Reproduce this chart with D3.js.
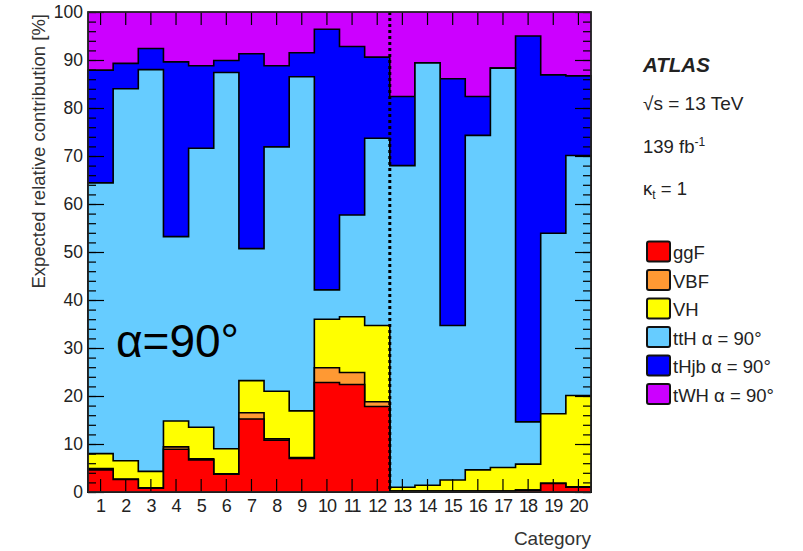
<!DOCTYPE html>
<html>
<head>
<meta charset="utf-8">
<script src="https://cdn.jsdelivr.net/npm/d3@7"></script>
<style>
  html, body { margin: 0; padding: 0; background: #fff; }
  svg { display: block; font-family: "Liberation Sans", Arial, Helvetica, sans-serif; }
</style>
</head>
<body>
<svg id="chart" width="803" height="551"></svg>
<script>
// Expected relative contribution [%] of each production mode per category
const categories = ["1","2","3","4","5","6","7","8","9","10","11","12","13","14","15","16","17","18","19","20"];
const ggF  = [4.6, 2.6, 0.8, 8.9, 6.7, 3.7, 15.2, 10.8, 7.0, 22.8, 22.4, 17.8, 0.2, 0.2, 0.2, 0.2, 0.2, 0.4, 1.8, 1.0];
const VBF  = [0.3, 0.1, 0.1, 0.5, 0.2, 0.1, 1.3, 0.3, 0.2, 3.1, 2.5, 1.0, 0.0, 0.0, 0.0, 0.0, 0.0, 0.0, 0.0, 0.1];
const VH   = [3.1, 3.8, 3.4, 5.4, 6.6, 5.2, 6.7, 9.9, 9.7, 10.1, 11.6, 15.9, 0.8, 1.2, 2.3, 4.4, 4.9, 5.4, 14.5, 19.0];
const ttH  = [56.4, 77.5, 83.7, 38.4, 58.1, 78.4, 27.5, 50.9, 69.6, 6.1, 21.2, 39.0, 67.0, 88.0, 32.2, 69.7, 83.2, 8.8, 37.6, 50.0];
const tHjb = [23.5, 5.3, 4.4, 36.4, 17.2, 2.5, 40.6, 16.9, 5.0, 54.3, 35.1, 16.9, 14.4, 0.0, 51.4, 8.1, 0.0, 80.4, 33.0, 16.6];
const tWH  = [12.1, 10.7, 7.6, 10.4, 11.2, 10.1, 8.7, 11.2, 8.5, 3.6, 7.2, 9.4, 17.6, 10.6, 13.9, 17.6, 11.7, 5.0, 13.1, 13.3];

const seriesKeys   = ["ggF", "VBF", "VH", "ttH", "tHjb", "tWH"];
const seriesLabels = ["ggF", "VBF", "VH", "ttH \u03B1 = 90\u00B0", "tHjb \u03B1 = 90\u00B0", "tWH \u03B1 = 90\u00B0"];
const seriesColors = ["#ff0000", "#ff9933", "#ffff00", "#66ccff", "#0000ff", "#cc00ff"];
const yTicks = [0, 10, 20, 30, 40, 50, 60, 70, 80, 90, 100];

const seriesValues = { ggF, VBF, VH, ttH, tHjb, tWH };
const table = categories.map((c, i) => {
  const row = { category: c };
  seriesKeys.forEach(k => { row[k] = seriesValues[k][i]; });
  return row;
});

const svg = d3.select("#chart");
const plot = { left: 88, right: 591, top: 12, bottom: 492 };

const x = d3.scaleBand().domain(categories).range([plot.left, plot.right]).padding(0);
const y = d3.scaleLinear().domain([0, 100]).range([plot.bottom, plot.top]);

const stacked = d3.stack().keys(seriesKeys)(table);

// Each cumulative histogram is filled from zero and outlined, drawn from the top layer downwards
const area = d3.area()
  .curve(d3.curveStepAfter)
  .x(d => d.x)
  .y0(y(0))
  .y1(d => y(d.v));

const layers = svg.append("g");
for (let s = stacked.length - 1; s >= 0; s--) {
  const layer = stacked[s];
  const pts = layer.map((d, i) => ({ x: x(categories[i]), v: Math.min(d[1], 100) }));
  pts.push({ x: x(categories[categories.length - 1]) + x.bandwidth(), v: pts[pts.length - 1].v });
  layers.append("path")
    .attr("d", area(pts))
    .attr("fill", seriesColors[s])
    .attr("stroke", "#000")
    .attr("stroke-width", 1.6)
    .attr("stroke-linejoin", "miter");
}

// Boundary between the two groups of categories
const split = x(categories[12]);
svg.append("line")
  .attr("x1", split).attr("x2", split)
  .attr("y1", y(100)).attr("y2", y(0))
  .attr("stroke", "#000")
  .attr("stroke-width", 3)
  .attr("stroke-dasharray", "3,3");

// Axes with inward ticks on all four sides
const axisStyle = g => {
  g.select(".domain").remove();
  g.selectAll("line").attr("stroke", "#000").attr("stroke-width", 1.2);
  g.selectAll("text").attr("fill", "#222");
};

svg.append("g")
  .attr("transform", `translate(0,${plot.bottom})`)
  .call(d3.axisBottom(x).tickSize(-13).tickPadding(7))
  .call(axisStyle)
  .call(g => g.selectAll("text").attr("font-size", 18).attr("font-family", "Liberation Sans, Arial, sans-serif").attr("letter-spacing", -1));

svg.append("g")
  .attr("transform", `translate(0,${plot.top})`)
  .call(d3.axisTop(x).tickSize(-13).tickFormat(""))
  .call(axisStyle);

svg.append("g")
  .attr("transform", `translate(${plot.left},0)`)
  .call(d3.axisLeft(y).tickValues(d3.range(0, 101, 2)).tickSize(-8).tickFormat(""))
  .call(axisStyle);

svg.append("g")
  .attr("transform", `translate(${plot.left},0)`)
  .call(d3.axisLeft(y).tickValues(yTicks).tickSize(-16).tickPadding(5))
  .call(axisStyle)
  .call(g => g.selectAll("text").attr("font-size", 17.5).attr("font-family", "Liberation Sans, Arial, sans-serif"));

svg.append("g")
  .attr("transform", `translate(${plot.right},0)`)
  .call(d3.axisRight(y).tickValues(d3.range(0, 101, 2)).tickSize(-8).tickFormat(""))
  .call(axisStyle);

svg.append("g")
  .attr("transform", `translate(${plot.right},0)`)
  .call(d3.axisRight(y).tickValues(yTicks).tickSize(-16).tickFormat(""))
  .call(axisStyle);

// Frame
svg.append("rect")
  .attr("x", plot.left).attr("y", plot.top)
  .attr("width", plot.right - plot.left).attr("height", plot.bottom - plot.top)
  .attr("fill", "none").attr("stroke", "#333").attr("stroke-width", 1.2);

// Axis titles
svg.append("text")
  .attr("transform", `translate(45,${plot.top + 2}) rotate(-90)`)
  .attr("text-anchor", "end")
  .attr("font-size", 18.5)
  .attr("fill", "#333")
  .text("Expected relative contribution [%]");

svg.append("text")
  .attr("x", plot.right).attr("y", 545)
  .attr("text-anchor", "end")
  .attr("font-size", 19)
  .attr("fill", "#333")
  .text("Category");

// In-plot annotation
svg.append("text")
  .attr("x", 116).attr("y", 357)
  .attr("font-size", 46)
  .attr("fill", "#000")
  .text("\u03B1=90\u00B0");

// ATLAS label block
const info = svg.append("g").attr("fill", "#222");
info.append("text").attr("x", 643).attr("y", 72)
  .attr("font-size", 20.5).attr("font-weight", "bold").attr("font-style", "italic")
  .text("ATLAS");
info.append("text").attr("x", 643).attr("y", 110).attr("font-size", 19)
  .text("\u221As = 13 TeV");
const lumi = info.append("text").attr("x", 643).attr("y", 153).attr("font-size", 18.5);
lumi.append("tspan").text("139 fb");
lumi.append("tspan").attr("font-size", 12).attr("dy", -7).text("-1");
const kap = info.append("text").attr("x", 643).attr("y", 195).attr("font-size", 18.5);
kap.append("tspan").text("\u03BA");
kap.append("tspan").attr("font-size", 12).attr("dy", 4).text("t");
kap.append("tspan").attr("dy", -4).text(" = 1");

// Legend
const legend = svg.append("g");
seriesKeys.forEach((k, i) => {
  const top = 241.5 + i * 28.5;
  legend.append("rect")
    .attr("x", 647).attr("y", top)
    .attr("width", 23).attr("height", 20)
    .attr("rx", 2)
    .attr("fill", seriesColors[i])
    .attr("stroke", "#111").attr("stroke-width", 2);
  legend.append("text")
    .attr("x", 673).attr("y", top + 17.5)
    .attr("font-size", 18.5)
    .attr("fill", "#222")
    .text(seriesLabels[i]);
});
</script>
</body>
</html>
